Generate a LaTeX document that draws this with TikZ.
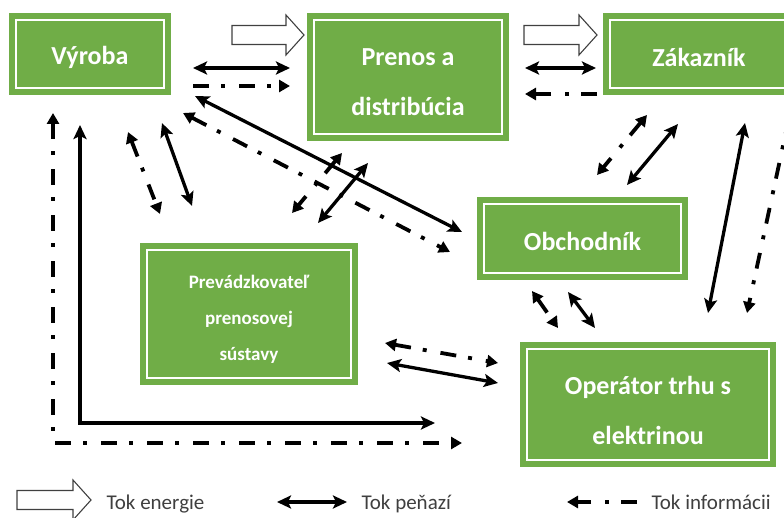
\documentclass[tikz,border=0pt]{standalone}
\usepackage{fontspec}
\setmainfont{Carlito}
\usepackage{xcolor}
\usepackage{tikz}
\usetikzlibrary{arrows.meta, calc}
\definecolor{partygreen}{HTML}{70AD47}
\definecolor{legendgray}{HTML}{3F3F3F}
\newcommand\lowerby[1]{\rule{0pt}{#1em}}
\tikzset{
  party/.style={rectangle, fill=partygreen, text=white, align=center, inner sep=0pt,
                font=\fontsize{26}{50}\selectfont\bfseries,
                execute at begin node={\lowerby{0.95}},
                path picture={\draw[white, line width=1.8pt]
                  ([shift={(7pt,-7pt)}]path picture bounding box.north west) rectangle
                  ([shift={(-7pt,7pt)}]path picture bounding box.south east);}},
  smallparty/.style={party, font=\fontsize{19}{36}\selectfont\bfseries},
  money/.style={>={Stealth[length=14pt, width=13pt, inset=3pt]}, line width=3.3pt},
  info/.style={>={Triangle[length=11pt, width=12pt]}, line width=3.8pt,
               dash pattern=on 16pt off 12pt on 4pt off 14pt},
  energyline/.style={draw=black!75, fill=white, line width=1.1pt, line join=miter},
  legendtext/.style={anchor=base west, text=legendgray, font=\fontsize{21}{24}\selectfont},
  pics/flow/.style={code={
    \draw[energyline] (0,-9.5) -- ({#1-18},-9.5) -- ({#1-18},-20) -- (#1,0)
      -- ({#1-18},20) -- ({#1-18},9.5) -- (0,9.5) -- cycle;}}
}

\begin{document}
\begin{tikzpicture}[x=1pt, y=-1pt]
  \useasboundingbox (0,0) rectangle (784,518);

  % Market parties
  \node[party, minimum width=162pt, minimum height=82pt]  (vyr)  at (90,54)      {Výroba};
  \node[party, minimum width=202pt, minimum height=128pt] (pren) at (408,77)
       {\lowerby{1.03}Prenos a\\distribúcia};
  \node[party, minimum width=192pt, minimum height=82pt]  (zak)  at (699,54)     {Zákazník};
  \node[party, minimum width=211pt, minimum height=83pt]  (obch) at (582.5,238.5) {Obchodník};
  \node[smallparty, minimum width=218pt, minimum height=142pt] (prev) at (249,314)
       {\lowerby{1.28}Prevádzkovateľ\\prenosovej\\sústavy};
  \node[party, minimum width=256pt, minimum height=125pt] (oper) at (648,404.5)
       {\lowerby{1.17}Operátor trhu s\\elektrinou};

  % Energy flow
  \pic at (232,35) {flow=72};
  \pic at (524,35) {flow=73};

  % Money flows
  \foreach \ax/\ay/\bx/\by [count=\i] in {193/68/290/68, 525/68/596/68, 195/96/462/232,
      162/123/192/206, 368/163/318/223, 678/124/627/185, 745/123/708/313,
      568/292/595/328, 387/363/498/383}
  {
    \coordinate (m\i-a) at (\ax,\ay);
    \coordinate (m\i-b) at (\bx,\by);
    \draw[money, <->] (m\i-a) -- (m\i-b);
  }
  \coordinate (mL-a) at (80,125);
  \coordinate (mL-b) at (435,423);
  \draw[money, <->] (mL-a) |- (mL-b);

  % Information flows
  \foreach \ax/\ay/\bx/\by [count=\i] in {183/113/450/252, 128/132/160/214,
      342/153/292/213, 647/115/597/175, 532/291/558/328, 385/343/498/363}
  {
    \coordinate (i\i-a) at (\ax,\ay);
    \coordinate (i\i-b) at (\bx,\by);
    \draw[info, <->] (i\i-a) -- (i\i-b);
  }
  \coordinate (iv-a) at (193,86);  \coordinate (iv-b) at (290,86);
  \draw[info, ->] (iv-a) -- (iv-b);
  \coordinate (iz-a) at (597,94);  \coordinate (iz-b) at (525,94);
  \draw[info, ->] (iz-a) -- (iz-b);
  \coordinate (io-a) at (789,118); \coordinate (io-b) at (747,313);
  \draw[info, ->] (io-a) -- (io-b);
  \coordinate (iL-a) at (53,113);
  \coordinate (iL-b) at (462,443);
  \draw[info, <->] (iL-a) |- (iL-b);

  % Legend
  \pic at (17,500) {flow=74};
  \node[legendtext] (lgE) at (103,509) {Tok energie};
  \coordinate (lm-a) at (277,502); \coordinate (lm-b) at (347,502);
  \draw[money, <->] (lm-a) -- (lm-b);
  \node[legendtext] (lgM) at (358,509) {Tok peňazí};
  \coordinate (li-a) at (637,502); \coordinate (li-b) at (567,502);
  \draw[info, ->] (li-a) -- (li-b);
  \node[legendtext] (lgI) at (648,509) {Tok informácii};
\end{tikzpicture}
\end{document}
